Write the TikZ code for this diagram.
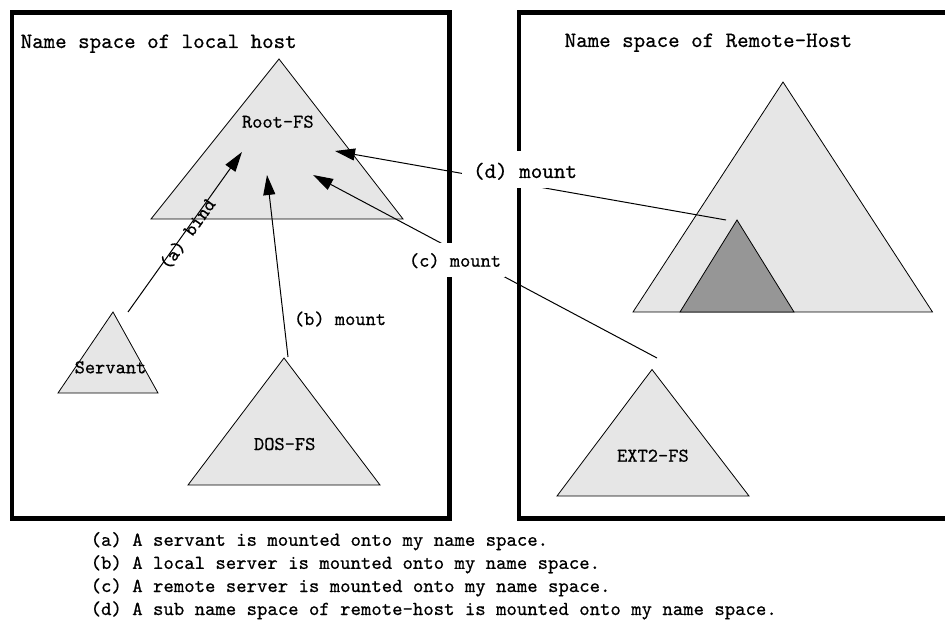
\documentclass[tikz,border=0pt]{standalone}
\usepackage{fontspec}
\usetikzlibrary{arrows.meta}

% slightly heavier typewriter face for all labels
\newfontfamily\labelfont[FakeBold=0.6]{lmmono10-regular.otf}

\definecolor{fslight}{HTML}{E6E6E6}
\definecolor{fsdark}{HTML}{969696}

\tikzset{
  frame/.style={line width=4.5pt, line join=miter},
  fs/.style={draw=black, line width=0.8pt, fill=fslight, line join=miter},
  subfs/.style={draw=black, line width=0.8pt, fill=fsdark, line join=miter},
  link/.style={draw=black, line width=1pt, -{Triangle[length=20pt,width=12pt]}},
  lbl/.style={inner sep=0pt, font=\fontsize{19.5}{22}\labelfont},
  title/.style={inner sep=0pt, anchor=base west, font=\fontsize{21.9}{24}\labelfont},
  legend/.style={inner sep=0pt, anchor=base west, font=\fontsize{19.8}{23}\labelfont},
  tag/.style={inner sep=0pt, fill=white, anchor=base},
}

\begin{document}
\begin{tikzpicture}[x=1pt, y=-1pt]
  \useasboundingbox (0,0) rectangle (945,620);
  \clip (0,0) rectangle (945,620);

  % name space frames
  \draw[frame] (12.2,12.7) rectangle (449.3,518.7);
  \draw[frame] (960,12.7) -- (519,12.7) -- (519,518.7) -- (960,518.7);

  \node[title] (localtitle)  at (20.5,48)  {Name space of local host};
  \node[title] (remotetitle) at (564.5,47) {Name space of Remote-Host};

  % file system trees
  \draw[fs] (279,59) -- (403,219) -- (151,219) -- cycle;
  \draw[fs] (113,312) -- (158,393) -- (58,393) -- cycle;
  \draw[fs] (284,358) -- (380,485) -- (188,485) -- cycle;
  \draw[fs] (652,369.5) -- (749,496) -- (557,496) -- cycle;
  \draw[fs] (783,82) -- (932.5,312) -- (633,312) -- cycle;
  \draw[subfs] (737,220) -- (794,312) -- (680,312) -- cycle;

  \node[lbl, anchor=base] (rootfs)  at (277.8,127.7) {Root-FS};
  \node[lbl, anchor=base] (servant) at (110.5,373.3) {Servant};
  \node[lbl, anchor=base] (dosfs)   at (284.7,450)   {DOS-FS};
  \node[lbl, anchor=base] (ext2fs)  at (652.9,461.7) {EXT2-FS};

  % connector end points
  \coordinate (a-from) at (128,312);
  \coordinate (a-to)   at (242,152);
  \coordinate (b-from) at (288,357);
  \coordinate (b-to)   at (267,175);
  \coordinate (c-from) at (657,358);
  \coordinate (c-to)   at (313,175);
  \coordinate (d-from) at (726,220);
  \coordinate (d-to)   at (335,151);

  \draw[link] (a-from) -- (a-to);
  \draw[link] (b-from) -- (b-to);
  \draw[link] (c-from) -- (c-to);
  \draw[link] (d-from) -- (d-to);

  % connector labels
  \node[lbl, rotate=54.5] (bindlbl) at (187.5,234) {(a) bind};
  \node[lbl, anchor=base] (bmount) at (340,325) {(b) mount};
  \node[lbl, tag, text height=24pt, text depth=10pt, minimum width=100pt]
    (cmount) at (455,266.7) {(c) mount};
  \node[lbl, tag, font=\fontsize{22}{24}\labelfont,
        text height=27.3pt, text depth=10.3pt, minimum width=126pt]
    (dmount) at (525,178) {(d) mount};

  % legend
  \node[legend] (leg-a) at (90.5,545.8) {(a) A servant is mounted onto my name space.};
  \node[legend] (leg-b) at (90.5,568.9) {(b) A local server is mounted onto my name space.};
  \node[legend] (leg-c) at (90.5,592)   {(c) A remote server is mounted onto my name space.};
  \node[legend] (leg-d) at (90.5,615)   {(d) A sub name space of remote-host is mounted onto my name space.};
\end{tikzpicture}
\end{document}
